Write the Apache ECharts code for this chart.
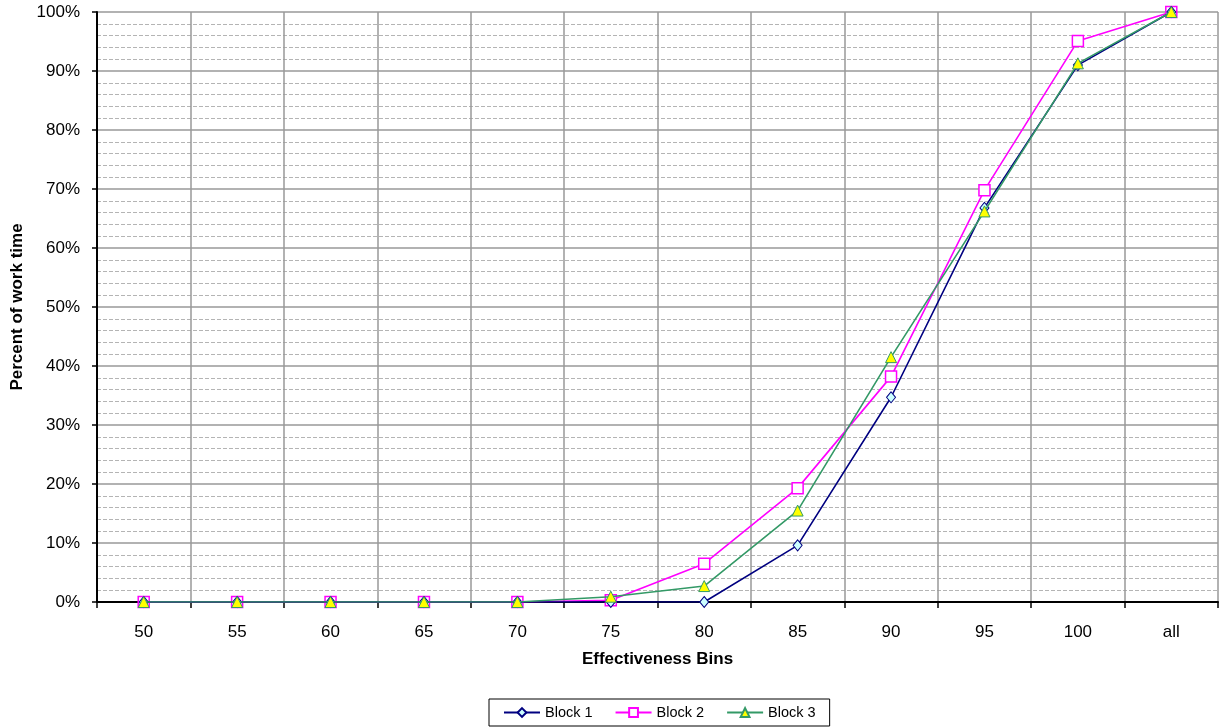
<!DOCTYPE html>
<html><head><meta charset="utf-8">
<script src="https://cdn.jsdelivr.net/npm/echarts@6/dist/echarts.min.js"></script>
<style>html,body{margin:0;padding:0;background:#fff}#c{width:1224px;height:727px}</style>
</head><body><div id="c"></div>
<script>
const categories = ['50','55','60','65','70','75','80','85','90','95','100','all'];
const block1 = [0,0,0,0,0,0,0,9.6,34.7,66.8,91.0,100];
const block2 = [0,0,0,0,0,0.3,6.5,19.3,38.2,69.8,95.1,100];
const block3 = [0,0,0,0,0,0.9,2.7,15.5,41.5,66.2,91.3,100];
const yTicks = [0,10,20,30,40,50,60,70,80,90,100];

const font = 'Liberation Sans, Arial, sans-serif';
const chart = echarts.init(document.getElementById('c'));
chart.setOption({
  animation:false,
  backgroundColor:'#fff',
  grid:{left:97,right:6,top:12,bottom:125},
  legend:{
    top:699,left:489,
    data:['Block 1','Block 2','Block 3'],
    borderColor:'#000',borderWidth:1,padding:[6,14,6,14],
    itemGap:22,itemWidth:36,itemHeight:11,
    textStyle:{fontFamily:font,fontSize:14.5,color:'#000'}
  },
  xAxis:{
    type:'category',data:categories,boundaryGap:true,
    name:'Effectiveness Bins',nameLocation:'middle',nameGap:49,
    nameTextStyle:{fontFamily:font,fontSize:17,fontWeight:'bold',color:'#000'},
    axisLine:{lineStyle:{color:'#000',width:2}},
    axisTick:{show:true,length:6,alignWithLabel:false,lineStyle:{color:'#000',width:1.5}},
    axisLabel:{fontFamily:font,fontSize:17,color:'#000',margin:22},
    splitLine:{show:true,interval:0,lineStyle:{color:'#999',width:1.5}}
  },
  yAxis:{
    type:'value',min:0,max:100,interval:10,
    name:'Percent of work time',nameLocation:'middle',nameGap:71.5,
    nameTextStyle:{fontFamily:font,fontSize:17,fontWeight:'bold',color:'#000'},
    axisLine:{show:true,lineStyle:{color:'#000',width:2}},
    axisTick:{show:true,length:5,lineStyle:{color:'#000',width:1.5}},
    axisLabel:{fontFamily:font,fontSize:17,color:'#000',margin:17,formatter:v=>yTicks.includes(v)?v+'%':''},
    splitLine:{show:true,lineStyle:{color:'#999',width:1.5}},
    minorTick:{show:false,splitNumber:5},
    minorSplitLine:{show:true,lineStyle:{color:'#b4b4b4',width:1,type:[4,2]}}
  },
  series:[
    {name:'Block 1',type:'line',data:block1,symbol:'diamond',symbolSize:[9,11],
     lineStyle:{color:'#000080',width:1.6},itemStyle:{color:'#ccffff',borderColor:'#000080',borderWidth:1},z:4},
    {name:'Block 2',type:'line',data:block2,symbol:'rect',symbolSize:11,
     lineStyle:{color:'#ff00ff',width:1.6},itemStyle:{color:'#ffffff',borderColor:'#ff00ff',borderWidth:1.5},z:3},
    {name:'Block 3',type:'line',data:block3,symbol:'triangle',symbolSize:11,
     lineStyle:{color:'#339966',width:1.6},itemStyle:{color:'#ffff00',borderColor:'#339966',borderWidth:1},z:5}
  ]
});
</script></body></html>
